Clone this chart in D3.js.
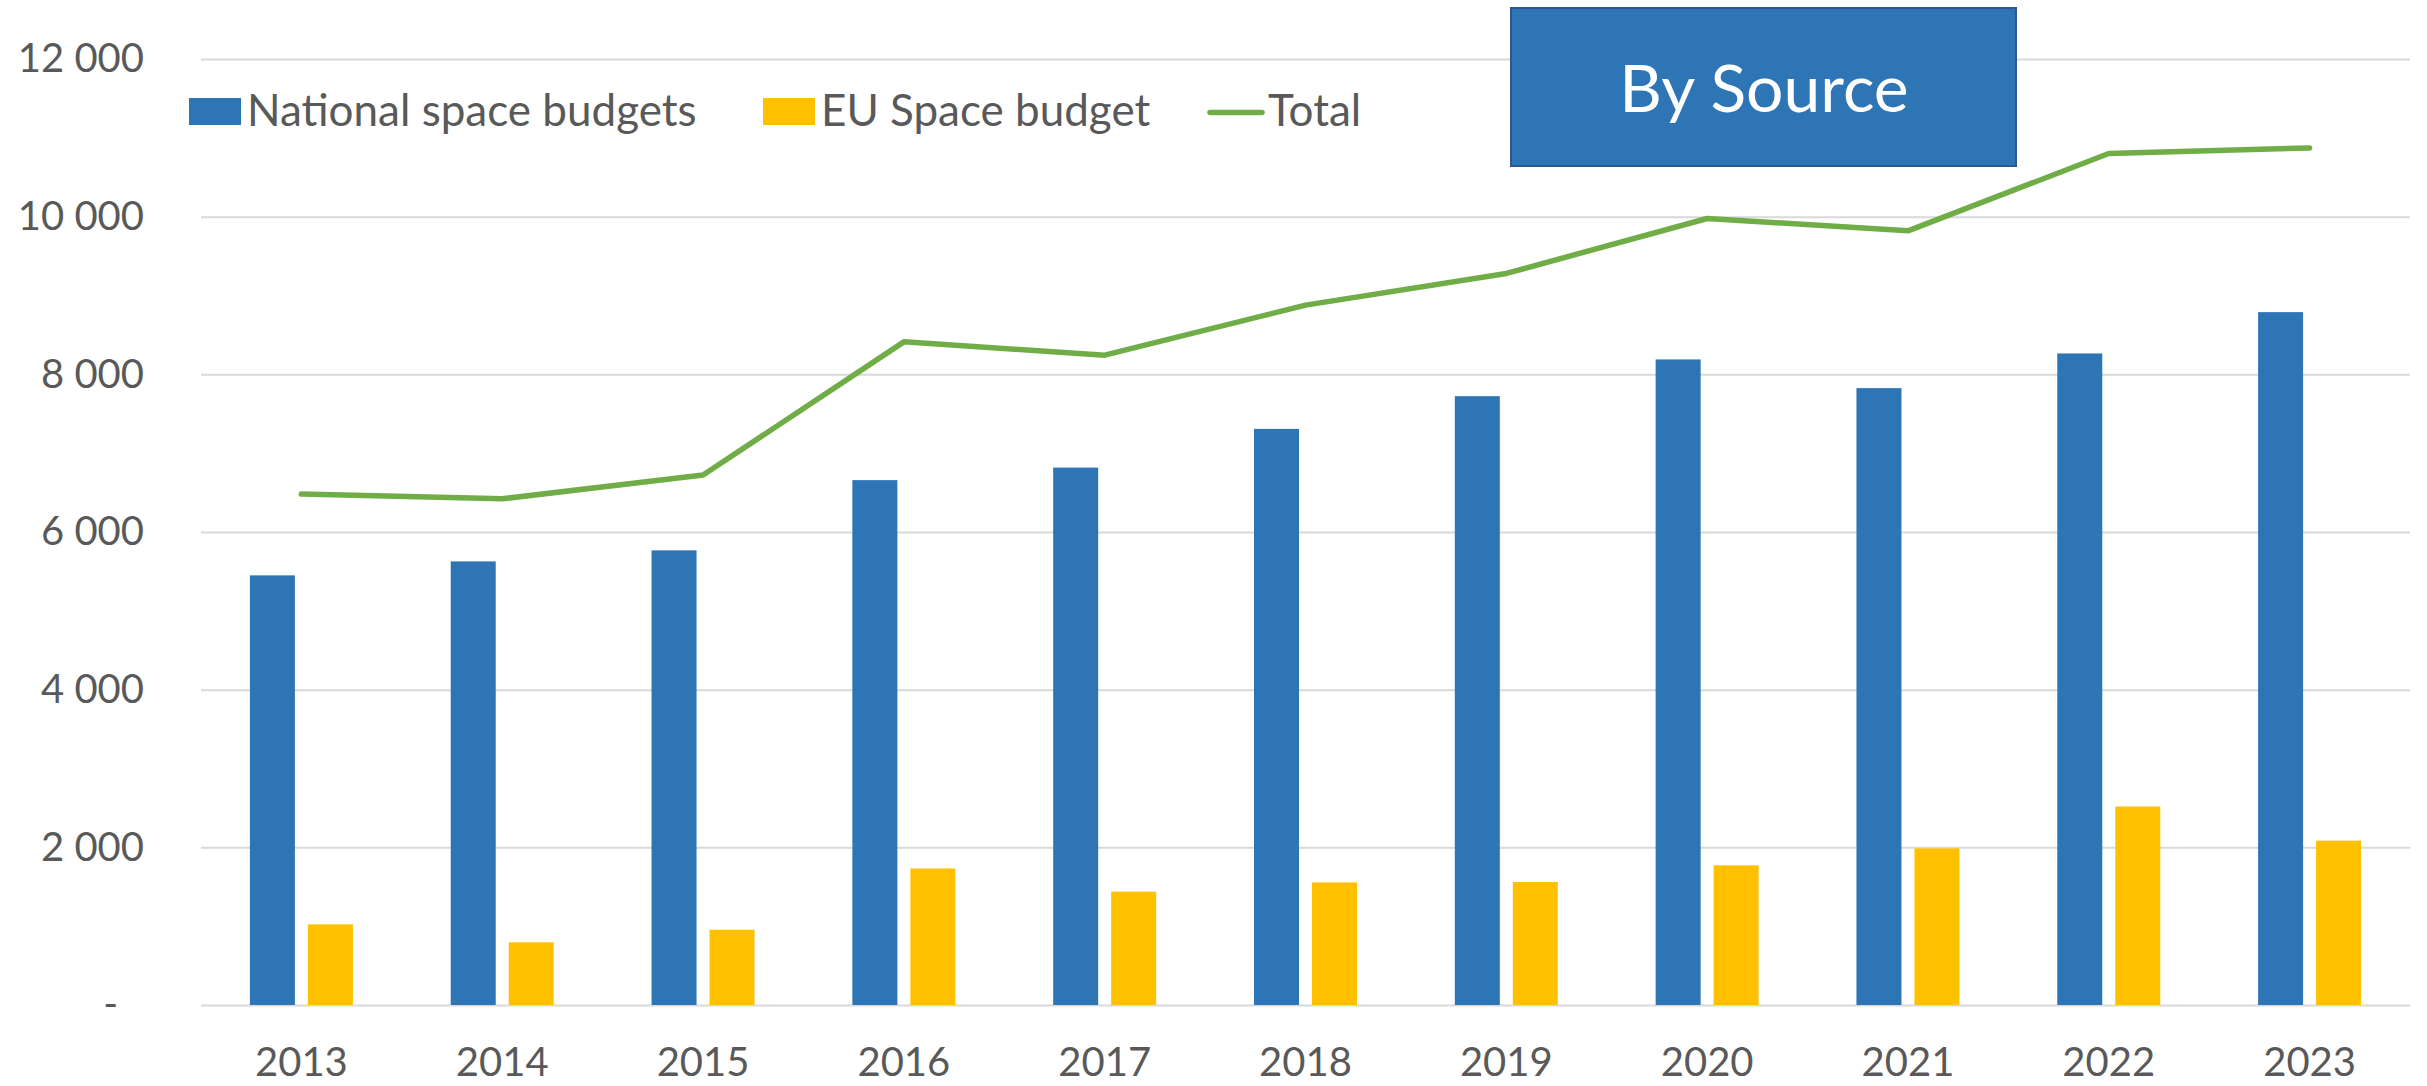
<!DOCTYPE html>
<html>
<head>
<meta charset="utf-8">
<script src="https://cdn.jsdelivr.net/npm/d3@7"></script>
<style>
  body { margin: 0; background: #fff; }
  svg { display: block; font-family: Lato, sans-serif; }
</style>
</head>
<body>
<svg id="chart" width="2427" height="1086"></svg>
<script>
// data
const years = ['2013', '2014', '2015', '2016', '2017', '2018', '2019', '2020', '2021', '2022', '2023'];
const national = [5450, 5627, 5767, 6658, 6817, 7308, 7723, 8189, 7825, 8265, 8789];
const euSpace = [1023, 795, 955, 1732, 1438, 1555, 1560, 1772, 1987, 2518, 2085];
const total = [6481, 6421, 6722, 8412, 8243, 8878, 9280, 9977, 9820, 10801, 10872];
const yTicks = [0, 2000, 4000, 6000, 8000, 10000, 12000];
const seriesNames = ['National space budgets', 'EU Space budget', 'Total'];

const colors = { national: '#2E75B6', eu: '#FFC000', total: '#70AD47' };
const textColor = '#595959';

const svg = d3.select('#chart');
const margin = { top: 59, right: 17, bottom: 81, left: 201 };
const width = 2427, height = 1086;

const x = d3.scaleBand()
  .domain(years)
  .range([margin.left, width - margin.right])
  .paddingInner(0)
  .paddingOuter(0);

const y = d3.scaleLinear()
  .domain([0, 12000])
  .range([height - margin.bottom, margin.top]);

// two bars per year, 45px wide with a 13px gap
const x1 = d3.scaleBand()
  .domain(['national', 'eu'])
  .range([x.bandwidth() / 2 - 51.5, x.bandwidth() / 2 + 51.5])
  .paddingInner(13 / 58);

const fmt = d3.formatLocale({ decimal: '.', thousands: ' ', grouping: [3], currency: ['', ''] }).format(',');

// gridlines
svg.append('g')
  .attr('transform', `translate(${margin.left},0)`)
  .call(d3.axisLeft(y).tickValues(yTicks).tickSize(-(width - margin.left - margin.right)).tickFormat(''))
  .call(g => g.select('.domain').remove())
  .call(g => g.selectAll('line').attr('stroke', '#D9D9D9').attr('stroke-width', 2));

// y labels
const yAxis = svg.append('g')
  .attr('transform', 'translate(144,0)')
  .call(d3.axisLeft(y).tickValues(yTicks).tickSize(0).tickPadding(0)
    .tickFormat(d => d === 0 ? '-' : fmt(d)));
yAxis.select('.domain').remove();
yAxis.selectAll('text')
  .attr('font-family', 'Lato, sans-serif')
  .attr('font-size', 40)
  .attr('fill', textColor)
  .attr('dx', d => d === 0 ? -26 : 0);

// x labels
const xAxis = svg.append('g')
  .attr('transform', `translate(0,${height - margin.bottom})`)
  .call(d3.axisBottom(x).tickSize(0).tickPadding(43));
xAxis.select('.domain').remove();
xAxis.selectAll('text')
  .attr('font-family', 'Lato, sans-serif')
  .attr('font-size', 40)
  .attr('fill', textColor);

// bars
const groups = svg.append('g').selectAll('g')
  .data(years)
  .join('g')
  .attr('transform', d => `translate(${x(d)},0)`);

groups.append('rect')
  .attr('x', x1('national'))
  .attr('width', x1.bandwidth())
  .attr('y', (d, i) => y(national[i]))
  .attr('height', (d, i) => y(0) - y(national[i]))
  .attr('fill', colors.national);

groups.append('rect')
  .attr('x', x1('eu'))
  .attr('width', x1.bandwidth())
  .attr('y', (d, i) => y(euSpace[i]))
  .attr('height', (d, i) => y(0) - y(euSpace[i]))
  .attr('fill', colors.eu);

// total line
const line = d3.line()
  .x((d, i) => x(years[i]) + x.bandwidth() / 2)
  .y(d => y(d));

svg.append('path')
  .datum(total)
  .attr('d', line)
  .attr('fill', 'none')
  .attr('stroke', colors.total)
  .attr('stroke-width', 5.5)
  .attr('stroke-linejoin', 'round')
  .attr('stroke-linecap', 'round');

// legend
const legend = svg.append('g').attr('font-family', 'Lato, sans-serif').attr('font-size', 44).attr('fill', textColor);
const legendX = [189, 763, 1208];

legend.append('rect').attr('x', legendX[0]).attr('y', 98).attr('width', 52).attr('height', 27).attr('fill', colors.national);
legend.append('text').attr('x', legendX[0] + 58).attr('y', 126).text(seriesNames[0]);

legend.append('rect').attr('x', legendX[1]).attr('y', 98).attr('width', 52).attr('height', 27).attr('fill', colors.eu);
legend.append('text').attr('x', legendX[1] + 58).attr('y', 126).text(seriesNames[1]);

legend.append('line').attr('x1', legendX[2] + 2).attr('x2', legendX[2] + 54).attr('y1', 112.5).attr('y2', 112.5)
  .attr('stroke', colors.total).attr('stroke-width', 5.5).attr('stroke-linecap', 'round');
legend.append('text').attr('x', legendX[2] + 60).attr('y', 126).text(seriesNames[2]);

// "By Source" box
svg.append('rect')
  .attr('x', 1511).attr('y', 8).attr('width', 505).attr('height', 158)
  .attr('fill', '#2E75B6').attr('stroke', '#2F5597').attr('stroke-width', 2);
svg.append('text')
  .attr('x', 1764).attr('y', 112)
  .attr('text-anchor', 'middle')
  .attr('font-family', 'Lato, sans-serif')
  .attr('font-size', 66)
  .attr('fill', '#fff')
  .text('By Source');
</script>
</body>
</html>
